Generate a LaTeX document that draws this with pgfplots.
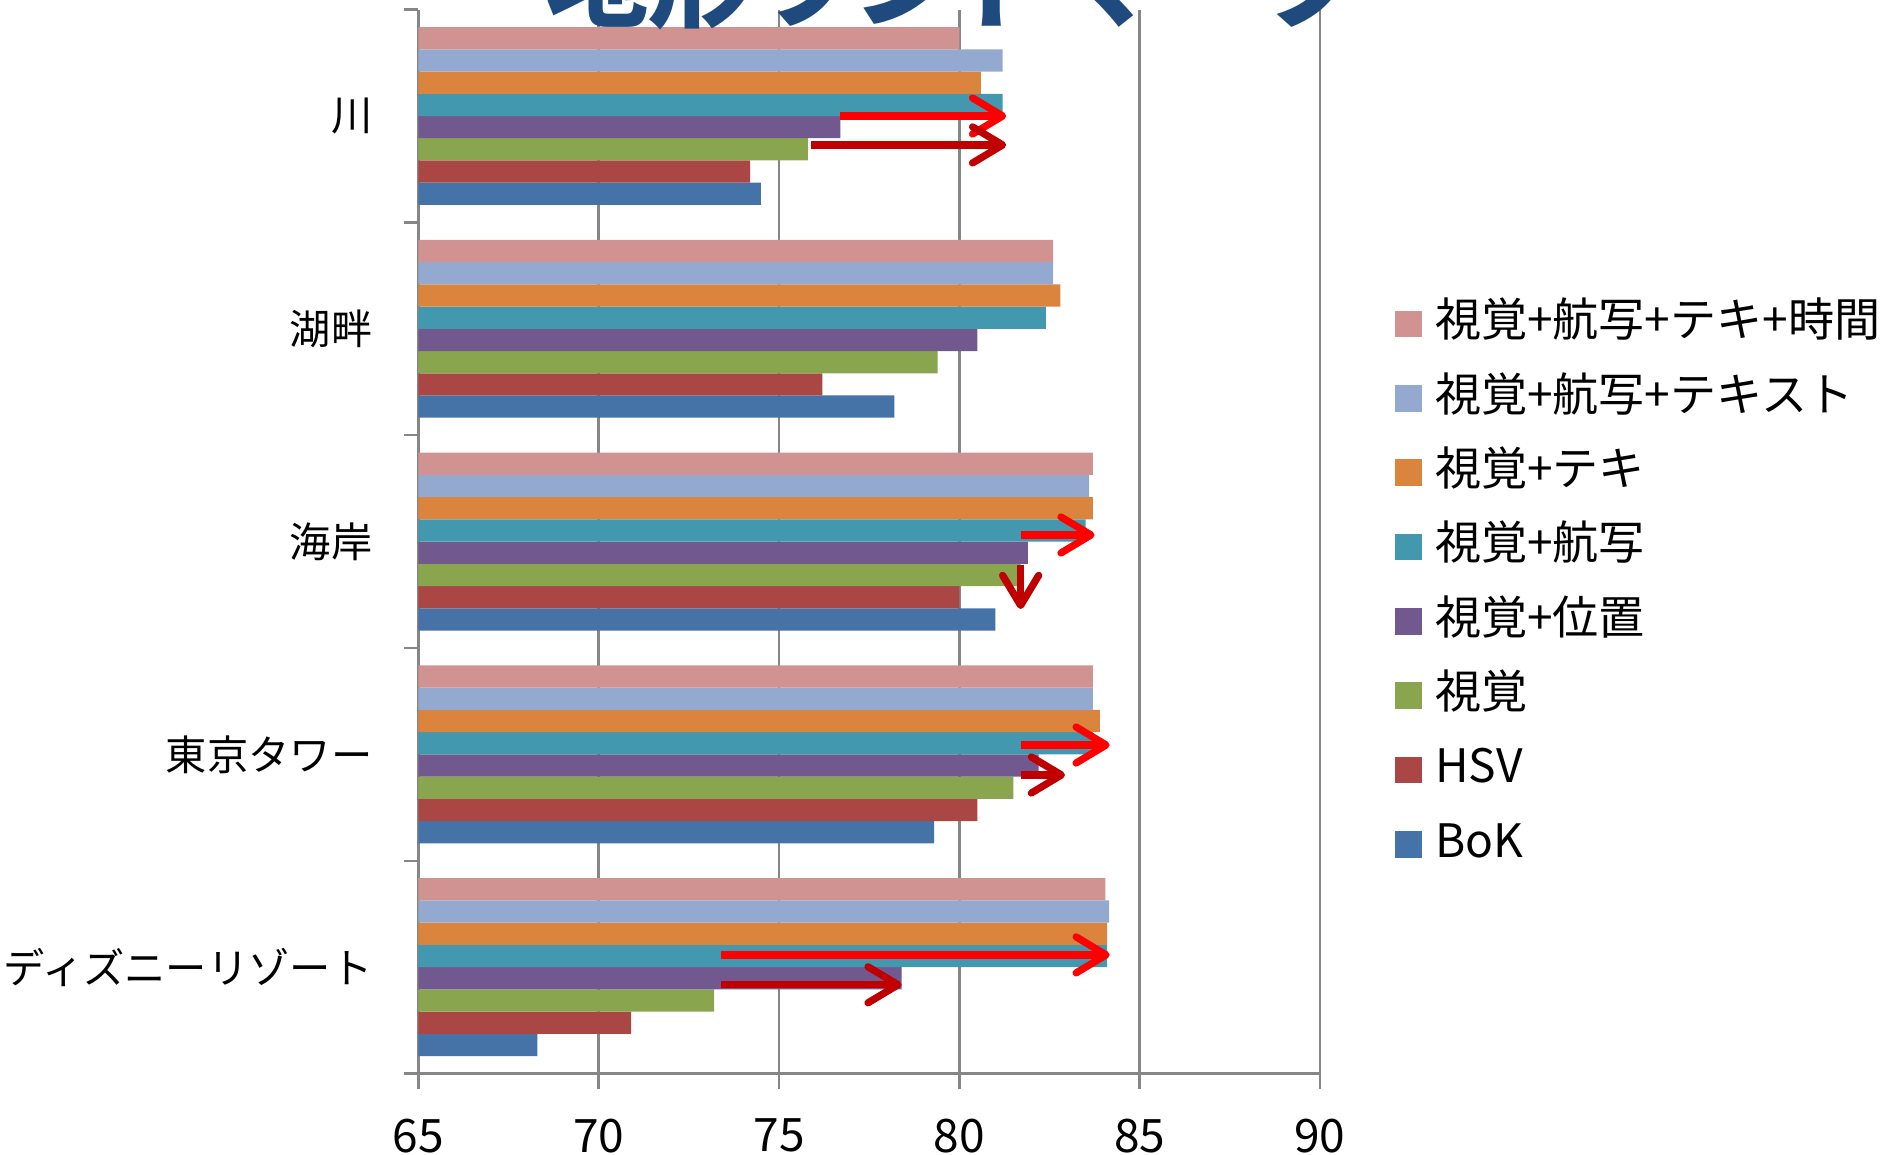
\documentclass[border=0pt]{standalone}
\usepackage{pgfplots}
\pgfplotsset{compat=1.18}
\usetikzlibrary{arrows.meta}
\usepackage{fontspec}
\setmainfont{Noto Sans CJK JP}

\definecolor{cBoK}{HTML}{4572A7}
\definecolor{cHSV}{HTML}{AA4643}
\definecolor{cVis}{HTML}{89A54E}
\definecolor{cPos}{HTML}{71588F}
\definecolor{cAer}{HTML}{4198AF}
\definecolor{cTxt}{HTML}{DB843D}
\definecolor{cAerTxt}{HTML}{93A9CF}
\definecolor{cAll}{HTML}{D19392}
\definecolor{gridgray}{HTML}{868686}
\definecolor{titleblue}{HTML}{1F4A7E}
\definecolor{arrowred}{HTML}{FF0000}
\definecolor{arrowdark}{HTML}{C00000}

\begin{document}
\begin{tikzpicture}
\begin{axis}[
  at={(0pt,0pt)}, anchor=south west,
  scale only axis, width=225pt, height=265.5pt,
  xmin=65, xmax=90, ymin=-0.5, ymax=4.5,
  xbar=0pt, bar width=0.1045,
  axis lines*=left,
  axis line style={draw=gridgray, line width=0.6pt},
  xtick={65,70,75,80,85,90},
  ytick={0,1,2,3,4},
  yticklabels={ディズニーリゾート,東京タワー,海岸,湖畔,川},
  minor ytick={-0.5,0.5,1.5,2.5,3.5,4.5},
  tick align=outside,
  major tick length=3.75pt, minor tick length=3.6pt,
  tick style={draw=gridgray, line width=0.6pt},
  every major y tick/.append style={draw=none},
  xmajorgrids, grid style={draw=gridgray, line width=0.6pt},
  /pgf/number format/assume math mode=true,
  xticklabel style={font=\fontsize{11.5}{13}\selectfont, yshift=-4pt},
  yticklabel style={font=\fontsize{10.3}{12}\selectfont, xshift=-4.2pt},
  reverse legend,
  legend cell align=left,
  legend style={draw=none, fill=none, at={(1.0827,0.4600)}, anchor=west,
    inner sep=0pt, row sep=7.05pt, column sep=3.3pt,
    font=\fontsize{11.5}{13}\selectfont,
    nodes={inner sep=0pt, text height=9pt, text depth=2.5pt}},
  legend image code/.code={\fill[#1] (0pt,-3.3pt) rectangle (6.6pt,3.3pt);},
]
% categories: 0 ディズニーリゾート, 1 東京タワー, 2 海岸, 3 湖畔, 4 川
\addplot[fill=cBoK, draw=none] coordinates {(68.3,0) (79.3,1) (81.0,2) (78.2,3) (74.5,4)};
\addlegendentry{BoK}
\addplot[fill=cHSV, draw=none] coordinates {(70.9,0) (80.5,1) (80.0,2) (76.2,3) (74.2,4)};
\addlegendentry{HSV}
\addplot[fill=cVis, draw=none] coordinates {(73.2,0) (81.5,1) (81.7,2) (79.4,3) (75.8,4)};
\addlegendentry{視覚}
\addplot[fill=cPos, draw=none] coordinates {(78.4,0) (82.2,1) (81.9,2) (80.5,3) (76.7,4)};
\addlegendentry{視覚+位置}
\addplot[fill=cAer, draw=none] coordinates {(84.1,0) (83.7,1) (83.5,2) (82.4,3) (81.2,4)};
\addlegendentry{視覚+航写}
\addplot[fill=cTxt, draw=none] coordinates {(84.1,0) (83.9,1) (83.7,2) (82.8,3) (80.6,4)};
\addlegendentry{視覚+テキ}
\addplot[fill=cAerTxt, draw=none] coordinates {(84.15,0) (83.7,1) (83.6,2) (82.6,3) (81.2,4)};
\addlegendentry{視覚+航写+テキスト}
\addplot[fill=cAll, draw=none] coordinates {(84.05,0) (83.7,1) (83.7,2) (82.6,3) (80.0,4)};
\addlegendentry{視覚+航写+テキ+時間}

% improvement arrows
\tikzset{imp/.style={line width=1.8pt, -{Straight Barb[length=7.5pt,width=9pt,round]}}}
\draw[imp, arrowred]  (76.7,4.000) -- (81.3,4.000);
\draw[imp, arrowdark] (75.9,3.864) -- (81.3,3.864);
\draw[imp, arrowred]  (81.7,2.031) -- (83.75,2.031);
\draw[imp, arrowdark] (81.7,1.891) -- (81.7,1.683);
\draw[imp, arrowred]  (81.7,1.044) -- (84.17,1.044);
\draw[imp, arrowdark] (81.7,0.903) -- (82.93,0.903);
\draw[imp, arrowred]  (73.4,0.0575) -- (84.17,0.0575);
\draw[imp, arrowdark] (73.4,-0.083) -- (78.4,-0.083);
\end{axis}
\node[anchor=base, font=\fontsize{25.5}{30}\selectfont\bfseries, text=titleblue, inner sep=0pt]
  at (134pt,263.1pt) {地形ランドマーク};
\pgfresetboundingbox
\path[use as bounding box] (-104.4pt,-20.1pt) rectangle (366pt,267.9pt);
\end{tikzpicture}
\end{document}
